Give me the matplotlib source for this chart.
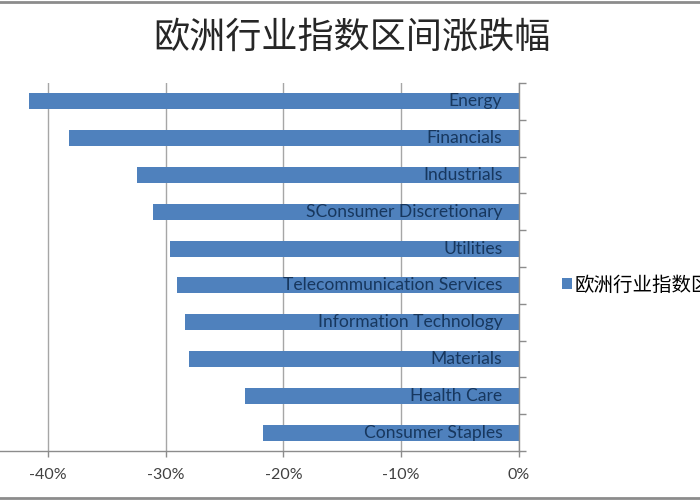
import matplotlib
matplotlib.use('Agg')
import matplotlib.pyplot as plt
from matplotlib.lines import Line2D
from matplotlib.ticker import FuncFormatter

plt.rcParams['font.family'] = ['Lato', 'Noto Sans CJK SC', 'DejaVu Sans']

# 行业与区间涨跌幅 (%)
sectors = ['Energy', 'Financials', 'Industrials', 'SConsumer Discretionary',
           'Utilities', 'Telecommunication Services', 'Information Technology',
           'Materials', 'Health Care', 'Consumer Staples']
changes = [-41.6, -38.2, -32.4, -31.1, -29.6, -29.0, -28.4, -28.0, -23.3, -21.7]
xticks = [-40, -30, -20, -10, 0]

title = '欧洲行业指数区间涨跌幅'
series_name = '欧洲行业指数区间涨跌幅'

fig = plt.figure(figsize=(7, 5), dpi=100)
ax = fig.add_axes([-0.0156, 0.098, 0.757, 0.736])

ypos = list(range(len(sectors)))
bars = ax.barh(ypos, changes, height=0.44, color='#4F81BD', label=series_name, zorder=2)

ax.set_xlim(-45, 0)
ax.set_ylim(len(sectors) - 0.5, -0.5)

# 标签放在柱子里靠右
for y, name in zip(ypos, sectors):
    ax.annotate(name, xy=(0, y), xytext=(-12, 0), textcoords='offset points',
                ha='right', va='center', fontsize=12.6, color='#17375E', zorder=3)

ax.set_xticks(xticks)
ax.xaxis.set_major_formatter(FuncFormatter(lambda v, p: '%d%%' % v))
ax.tick_params(axis='x', direction='out', length=4, width=1, color='#8c8c8c',
               labelsize=11.5, labelcolor='#404040', pad=8)
ax.grid(axis='x', color='#a6a6a6', linewidth=1, zorder=0)

ax.yaxis.tick_right()
ax.set_yticks([i - 0.5 for i in range(len(sectors) + 1)])
ax.set_yticklabels([])
ax.tick_params(axis='y', direction='out', length=5, width=1, color='#8c8c8c')

for s in ['top', 'left']:
    ax.spines[s].set_visible(False)
for s in ['right', 'bottom']:
    ax.spines[s].set_color('#8c8c8c')
    ax.spines[s].set_linewidth(1)

fig.text(0.503, 0.925, title, ha='center', va='center', fontsize=26,
         color='#262626', family=['Noto Sans CJK SC'], weight='medium')

fig.legend(handles=[bars], labels=[series_name], loc='center left',
           bbox_to_anchor=(0.778, 0.43), frameon=False,
           handlelength=0.5, handleheight=0.5, handletextpad=0.15,
           prop={'family': ['Noto Sans CJK SC'], 'size': 14})

# 图表外框
fig.add_artist(Line2D([0, 1], [0.997, 0.997], color='#8c8c8c', lw=2))
fig.add_artist(Line2D([0, 1], [0.004, 0.004], color='#8c8c8c', lw=2))

fig.savefig('out.png', dpi=100)
